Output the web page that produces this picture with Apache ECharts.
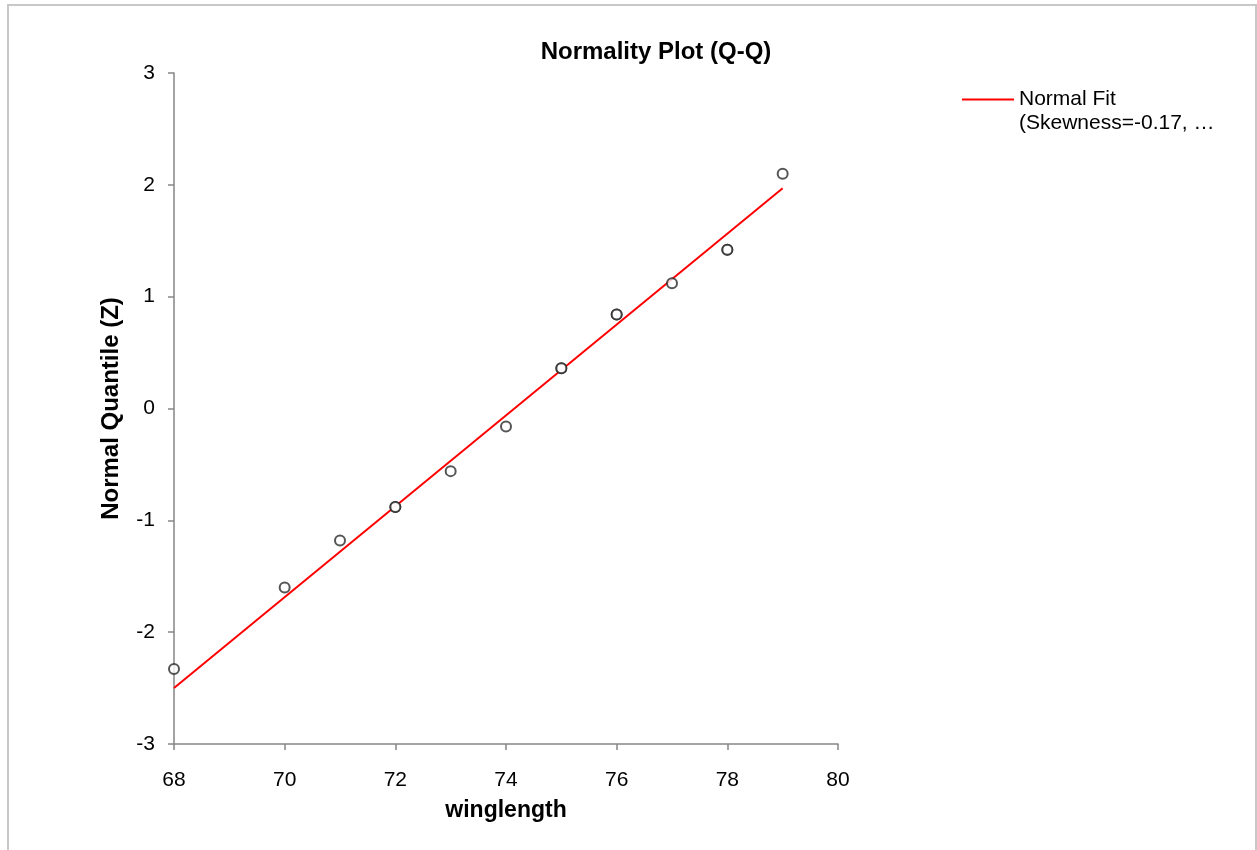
<!DOCTYPE html>
<html>
<head>
<meta charset="utf-8">
<script src="https://cdn.jsdelivr.net/npm/echarts@6/dist/echarts.min.js"></script>
<style>
html,body{margin:0;padding:0;background:#fff;}
#frame{position:absolute;left:7px;top:4px;width:1250px;height:860px;border:2px solid #c8c8c8;box-sizing:border-box;}
#chart{position:absolute;left:0;top:0;width:1257px;height:850px;}
</style>
</head>
<body>
<div id="frame"></div>
<div id="chart"></div>
<script>
const winglength = [68, 70, 71, 72, 72, 73, 74, 75, 75, 76, 76, 77, 78, 78, 79];
const normalQuantile = [-2.33, -1.60, -1.18, -0.88, -0.88, -0.56, -0.16, 0.36, 0.36, 0.84, 0.84, 1.12, 1.42, 1.42, 2.10];
const fitX = [68, 79];
const fitY = [-2.50, 1.97];
const xTicks = [68, 70, 72, 74, 76, 78, 80];
const yTicks = [-3, -2, -1, 0, 1, 2, 3];
const fitName = 'Normal Fit';
const fitName2 = '(Skewness=-0.17, \u2026';

const font = '"Liberation Sans", Arial, sans-serif';
const chart = echarts.init(document.getElementById('chart'), null, {renderer: 'canvas'});
chart.setOption({
  backgroundColor: 'transparent',
  animation: false,
  title: {
    text: 'Normality Plot (Q-Q)',
    left: 651, top: 35, textAlign: 'center',
    textStyle: {fontFamily: font, fontSize: 24, fontWeight: 'bold', color: '#000'}
  },
  legend: {
    left: 962, top: 89, padding: 0,
    itemWidth: 52, itemHeight: 14, itemGap: 5,
    data: [{name: fitName, icon: 'path://M0,0 L52,0 L52,2 L0,2 Z'}],
    textStyle: {fontFamily: font, fontSize: 21, color: '#000', padding: [0,0,0,0]}
  },
  graphic: [{
    type: 'text', left: 1019, top: 113,
    style: {text: fitName2, font: '21px ' + font, fill: '#000'}
  }],
  grid: {left: 174, right: 419, top: 73, bottom: 106},
  xAxis: {
    type: 'value', min: xTicks[0], max: xTicks[xTicks.length-1], interval: 2,
    name: 'winglength', nameLocation: 'middle', nameGap: 55,
    nameTextStyle: {fontFamily: font, fontSize: 23, fontWeight: 'bold', color: '#000'},
    axisLine: {show: true, onZero: false, lineStyle: {color: '#868686', width: 1.5}},
    axisTick: {show: true, length: 6, lineStyle: {color: '#868686', width: 1.5}},
    axisLabel: {fontFamily: font, fontSize: 21, color: '#000', margin: 26},
    splitLine: {show: false}
  },
  yAxis: {
    type: 'value', min: yTicks[0], max: yTicks[yTicks.length-1], interval: 1,
    name: 'Normal Quantile (Z)', nameLocation: 'middle', nameGap: 51,
    nameTextStyle: {fontFamily: font, fontSize: 24, fontWeight: 'bold', color: '#000'},
    axisLine: {show: true, onZero: false, lineStyle: {color: '#868686', width: 1.5}},
    axisTick: {show: true, length: 6, lineStyle: {color: '#868686', width: 1.5}},
    axisLabel: {fontFamily: font, fontSize: 21, color: '#000', margin: 19},
    splitLine: {show: false}
  },
  series: [
    {
      name: fitName, type: 'line',
      data: fitX.map((x, i) => [x, fitY[i]]),
      showSymbol: false, symbol: 'none',
      lineStyle: {color: '#ff0000', width: 2},
      itemStyle: {color: '#ff0000'},
      z: 2
    },
    {
      name: 'Data', type: 'scatter',
      data: winglength.map((x, i) => [x, normalQuantile[i]]),
      symbol: 'emptyCircle', symbolSize: 10,
      itemStyle: {color: '#2a2a2a', borderColor: '#2a2a2a', borderWidth: 2},
      z: 3
    }
  ]
});
</script>
</body>
</html>
